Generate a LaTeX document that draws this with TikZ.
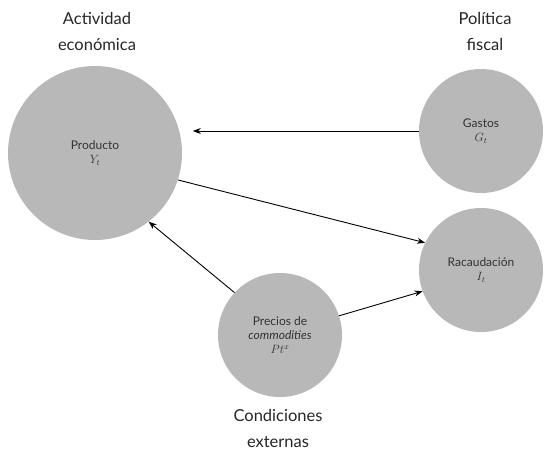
\documentclass[tikz,border=0pt]{standalone}
\usepackage{amsmath}
\usepackage{fontspec}
\setmainfont{Lato}
\usepackage{tikz}
\usetikzlibrary{arrows.meta}

\begin{document}
\begin{tikzpicture}[x=1pt,y=-1pt,>={Stealth[length=8pt,width=6pt]},
    bola/.style={circle,fill=black!28,text=black!80,align=center,font=\fontsize{12}{14}\selectfont},
    titulo/.style={text=black!85,align=center,font=\fontsize{16.5}{26}\selectfont}]
            \useasboundingbox (0,0) rectangle (544,459);
            \def\rg{124pt}
            % circulos
            \node[bola,minimum size=174pt] (prod) at (95,153) {Producto\\$Y_t$};
            \node[bola,minimum size=\rg] (gast) at (481,131) {Gastos\\$G_t$};
            \node[bola,minimum size=\rg] (rec) at (481,270) {Racaudación\\$I_t$};
            \node[bola,minimum size=\rg] (prec) at (280,335) {Precios de\\\textit{commodities}\\$Pt^x$};

            % titulos
            \node[titulo] (act) at (97,31) {Actividad\\económica};
            \node[titulo] (pol) at (485,31) {Política\\fiscal};
            \node[titulo] (cond) at (278,428) {Condiciones\\externas};

            % flechas
            \draw[->,line width=0.9pt] (gast.west) -- ++(-226,0);
            \draw[->,line width=0.9pt] (prod.-18) -- (rec.154);
            \draw[->,line width=0.9pt] (prec.18) -- (rec.200);
            \draw[->,line width=0.9pt] (prec.137) -- (prod.-52);
        \end{tikzpicture}
\end{document}
